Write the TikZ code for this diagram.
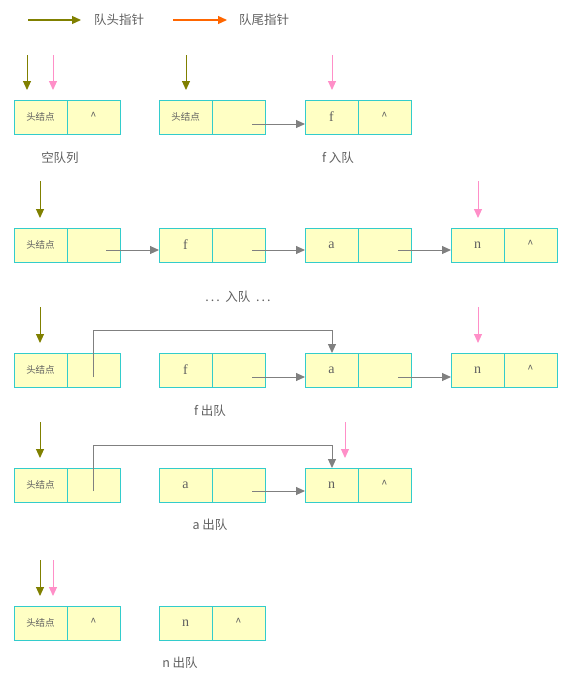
\documentclass[tikz,border=0pt]{standalone}
\usepackage{fontspec}
\newfontfamily\cjk{Noto Sans CJK SC}
\newfontfamily\letf{Liberation Serif}
\usetikzlibrary{arrows.meta}
\definecolor{boxfill}{HTML}{FFFFC4}
\definecolor{boxline}{HTML}{33CCCC}
\definecolor{headc}{HTML}{808000}
\definecolor{tailc}{HTML}{FF8FC8}
\definecolor{orangec}{HTML}{FF6600}
\definecolor{linkc}{HTML}{808080}
\definecolor{txtc}{HTML}{606060}
\tikzset{
  cell/.style={draw=boxline, fill=boxfill, minimum width=53pt, minimum height=34pt,
    inner sep=0pt, outer sep=0pt, line width=1pt, text=txtc, font=\letf\fontsize{14}{14}\selectfont},
  hcell/.style={cell, font=\cjk\fontsize{9.5}{10}\selectfont},
  tip/.style={-{Triangle[length=9pt,width=8pt]}},
  link/.style={draw=linkc, line width=1pt, tip},
  headp/.style={draw=headc, line width=1pt, tip, shorten >=10pt},
  tailp/.style={draw=tailc, line width=1pt, tip, shorten >=10pt},
  lbl/.style={text=txtc, font=\cjk\fontsize{12.5}{13}\selectfont, inner sep=1pt},
}
\newcommand\qhead[3]{% name, x, y
  \node[hcell, anchor=north west] (#1l) at (#2,#3) {头结点};}
\newcommand\qcell[5]{% name, x, y, left, right
  \node[cell, anchor=north west] (#1l) at (#2,#3) {#4};
  \node[cell, anchor=north west] (#1r) at (#2+53,#3) {#5};}
\newcommand\crt{{\cjk\fontsize{11}{11}\selectfont\raisebox{2pt}{\textasciicircum}}}
\begin{document}
\begin{tikzpicture}[x=1pt,y=-1pt]
\useasboundingbox (0,0) rectangle (577,683);
% legend
\coordinate (lg1) at (28,20); \coordinate (lg1e) at (81,20);
\draw[draw=headc, line width=1.2pt, tip] (lg1) -- (lg1e);
\node[lbl, anchor=west] (lgt1) at (93,20) {队头指针};
\coordinate (lg2) at (173,20); \coordinate (lg2e) at (227,20);
\draw[draw=orangec, line width=1.2pt, tip] (lg2) -- (lg2e);
\node[lbl, anchor=west] (lgt2) at (238,20) {队尾指针};

% ---------- row 1 ----------
\qhead{a1}{14}{100}
\node[cell, anchor=north west] (a1r) at (67,100) {\crt};
\qhead{b1}{159}{100}
\node[cell, anchor=north west] (b1r) at (212,100) {};
\qcell{c1}{305}{100}{f}{\crt}
\coordinate (p1h) at (27,55);  \draw[headp] (p1h) -- (p1h |- a1l.north);
\coordinate (p1t) at (53,55);  \draw[tailp] (p1t) -- (p1t |- a1l.north);
\coordinate (p1h2) at (186,55); \draw[headp] (p1h2) -- (p1h2 |- b1l.north);
\coordinate (p1t2) at (332,55); \draw[tailp] (p1t2) -- (p1t2 |- c1l.north);
\coordinate (k1) at (252,124); \draw[link] (k1) -- (k1 -| c1l.west);
\node[lbl] (t1) at (60,158) {空队列};
\node[lbl] (t2) at (338,158) {f 入队};

% ---------- row 2 ----------
\qhead{a2}{14}{228}
\node[cell, anchor=north west] (a2r) at (67,228) {};
\qcell{b2}{159}{228}{f}{}
\qcell{c2}{305}{228}{a}{}
\qcell{d2}{451}{228}{n}{\crt}
\coordinate (p2h) at (40,181); \draw[headp] (p2h) -- (p2h |- a2l.north);
\coordinate (p2t) at (478,181); \draw[tailp] (p2t) -- (p2t |- d2l.north);
\coordinate (k2a) at (106,250); \draw[link] (k2a) -- (k2a -| b2l.west);
\coordinate (k2b) at (252,250); \draw[link] (k2b) -- (k2b -| c2l.west);
\coordinate (k2c) at (398,250); \draw[link] (k2c) -- (k2c -| d2l.west);
\node[lbl] (t3) at (238,297) {.\,.\,.\ \ 入队\ \ .\,.\,.};

% ---------- row 3 ----------
\qhead{a3}{14}{353}
\node[cell, anchor=north west] (a3r) at (67,353) {};
\qcell{b3}{159}{353}{f}{}
\qcell{c3}{305}{353}{a}{}
\qcell{d3}{451}{353}{n}{\crt}
\coordinate (p3h) at (40,307); \draw[headp] (p3h) -- (p3h |- a3l.north);
\coordinate (p3t) at (478,307); \draw[tailp] (p3t) -- (p3t |- d3l.north);
\coordinate (k3h) at (93,377); \coordinate (k3top) at (332,330);
\draw[link] (k3h) |- (k3top) -- (k3top |- c3l.north);
\coordinate (k3b) at (252,377); \draw[link] (k3b) -- (k3b -| c3l.west);
\coordinate (k3c) at (398,377); \draw[link] (k3c) -- (k3c -| d3l.west);
\node[lbl] (t4) at (210,411) {f 出队};

% ---------- row 4 ----------
\qhead{a4}{14}{468}
\node[cell, anchor=north west] (a4r) at (67,468) {};
\qcell{b4}{159}{468}{a}{}
\qcell{c4}{305}{468}{n}{\crt}
\coordinate (p4h) at (40,422); \draw[headp] (p4h) -- (p4h |- a4l.north);
\coordinate (p4t) at (345,422); \draw[tailp] (p4t) -- (p4t |- c4l.north);
\coordinate (k4h) at (93,491); \coordinate (k4top) at (332,445);
\draw[link] (k4h) |- (k4top) -- (k4top |- c4l.north);
\coordinate (k4b) at (252,491); \draw[link] (k4b) -- (k4b -| c4l.west);
\node[lbl] (t5) at (210,525) {a 出队};

% ---------- row 5 ----------
\qhead{a5}{14}{606}
\node[cell, anchor=north west] (a5r) at (67,606) {\crt};
\qcell{b5}{159}{606}{n}{\crt}
\coordinate (p5h) at (40,560); \draw[headp] (p5h) -- (p5h |- a5l.north);
\coordinate (p5t) at (53,560); \draw[tailp] (p5t) -- (p5t |- a5l.north);
\node[lbl] (t6) at (180,663) {n 出队};
\end{tikzpicture}
\end{document}
